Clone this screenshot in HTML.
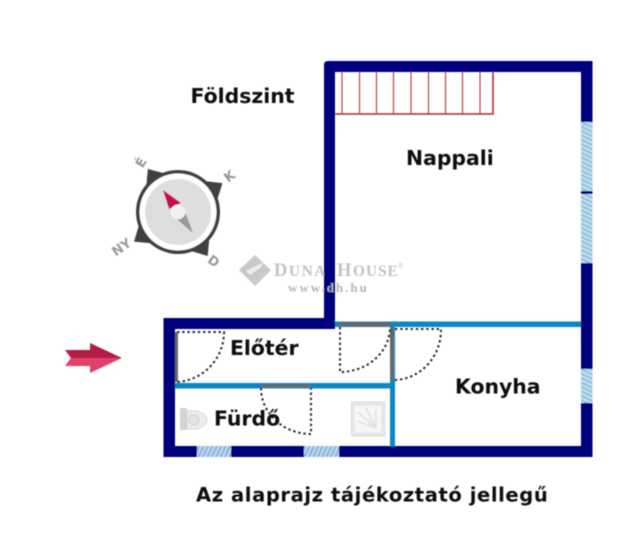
<!DOCTYPE html>
<html><head><meta charset="utf-8">
<style>html,body{margin:0;padding:0;background:#fff}svg{display:block}
text{font-family:"DejaVu Sans",sans-serif;font-weight:bold;fill:#0a0a0a}</style></head>
<body>
<svg width="640" height="548" viewBox="0 0 640 548" xmlns="http://www.w3.org/2000/svg">
<defs>
<pattern id="h" width="6" height="4" patternUnits="userSpaceOnUse" patternTransform="rotate(25)">
<rect width="6" height="4" fill="#c4dff0"/><rect width="6" height="2" fill="#8fc3dc"/></pattern>
<pattern id="v" width="4" height="6" patternUnits="userSpaceOnUse" patternTransform="rotate(25)">
<rect width="4" height="6" fill="#c4d8f0"/><rect width="2" height="6" fill="#84b4dc"/></pattern>
<filter id="b" x="-10%" y="-10%" width="120%" height="120%"><feGaussianBlur stdDeviation="0.45"/></filter>
</defs>
<g filter="url(#b)">
<!-- logo -->
<path fill="#c9c9c9" d="M255 255L271 270 255 286 239 270Z"/>
<path fill="#eee" d="M246 271L264 262 260 268 250 275Z"/>
<text x="274" y="276" style="font-family:'Liberation Serif',serif;fill:#c2c2c2;font-weight:bold" font-size="18.500" letter-spacing="1.500">D<tspan font-size="15.500">UNA</tspan><tspan x="337">H</tspan><tspan font-size="15.500" letter-spacing="0.900">OUSE</tspan></text>
<text x="398" y="268" style="font-family:'Liberation Serif',serif;fill:#bdbdbd;font-weight:normal" font-size="7">®</text>
<!-- stairs -->
<g fill="none" stroke="#b8454a" stroke-width="1.200">
<path d="M342 72V114M359.500 72V114M376.500 72V114M393.500 72V114M411 72V114M428.500 72V114M445.500 72V114M462.500 72V114M480 72V114"/>
<path d="M335 114H493V72" stroke-width="1.800"/></g>
<!-- walls -->
<path fill="#00007d" fill-rule="evenodd" d="M328 61H592.500V457H163.500V318H324V65Q324 61 328 61ZM335 72V329H175V446H581V72Z"/>
<text x="288" y="292" style="font-family:'Liberation Serif',serif;fill:#b5b5b5" font-size="13" letter-spacing="2">www.dh.hu</text>
<!-- windows -->
<rect x="581" y="122" width="11.500" height="69" fill="url(#h)"/>
<rect x="581" y="194" width="11.500" height="69" fill="url(#h)"/>
<rect x="581" y="369" width="11.500" height="34" fill="url(#h)"/>
<rect x="197" y="446" width="34" height="11" fill="url(#v)"/>
<rect x="304" y="446" width="35" height="11" fill="url(#v)"/>
<!-- blue inner walls -->
<g fill="#0f86c2">
<rect x="335" y="321.500" width="246" height="5.500"/>
<rect x="390" y="321.500" width="5" height="125"/>
<rect x="175" y="383" width="216" height="5.500"/>
</g>
<!-- door leaves -->
<g fill="#5f6a70">
<rect x="340" y="322" width="50" height="4.500"/>
<rect x="390" y="327" width="4" height="53"/>
<rect x="175" y="332" width="3" height="50"/>
<rect x="261" y="384" width="49" height="3.500"/>
</g>
<!-- door swings -->
<g fill="none" stroke="#26292d" stroke-width="2" stroke-dasharray="2.400 2.800">
<path d="M177 332H224A50 50 0 0 1 177 382"/>
<path d="M340 327V372A50 45 0 0 0 390 328"/>
<path d="M395 329H441A48 50 0 0 1 395 380"/>
<path d="M261 388A50 46 0 0 0 311 434V388"/>
</g>
<!-- arrow -->
<path fill="#b21f43" d="M65 350H90V343L122 358H71Z"/>
<path fill="#e0416b" d="M71 358H122L90 373V366H65Z"/>
<!-- compass -->
<g>
<g fill="#3f3f3f">
<path d="M0 -52.500L14 -36H-14Z" transform="translate(178 212) rotate(-35)"/>
<path d="M0 -53L14 -36H-14Z" transform="translate(178 212) rotate(57)"/>
<path d="M0 -53L14 -36H-14Z" transform="translate(178 212) rotate(146)"/>
<path d="M0 -53L14 -36H-14Z" transform="translate(178 212) rotate(236)"/>
</g>
<circle cx="178" cy="212" r="42" fill="#3f3f3f"/>
<circle cx="178" cy="212" r="38.500" fill="#fff"/>
<circle cx="178" cy="212" r="33" fill="#dedede"/>
<path fill="#c40d50" d="M163 190L181 203 169 209Z"/>
<path fill="#999" d="M193 233L172 215 184 209Z"/>
<circle cx="178" cy="212" r="7.500" fill="#f1f1f1"/>
</g>
<!-- compass letters -->
<g font-size="13" text-anchor="middle" dominant-baseline="central">
<text transform="translate(142 163) rotate(-60)" style="fill:#9a9a9a">É</text>
<text transform="translate(230 177) rotate(-35)" style="fill:#9a9a9a">K</text>
<text transform="translate(122 248) rotate(-35)" style="fill:#9a9a9a">NY</text>
<text transform="translate(213 262) rotate(35)" style="fill:#9a9a9a">D</text>
</g>
<!-- toilet -->
<g>
<rect x="180" y="408" width="7" height="22" fill="#d4d4d4"/>
<path d="M187 411H197Q206 414 207 420Q206 426 197 429H187Z" fill="#ececec" stroke="#d6d6d6"/>
<circle cx="194" cy="420" r="5" fill="#e4e4e4" stroke="#d2d2d2"/>
</g>
<!-- shower -->
<g>
<rect x="351.500" y="402" width="33" height="34" fill="#e8e8e8" stroke="#d8d8d8"/>
<rect x="355" y="406" width="26" height="26" fill="#f7f7f7"/>
<path d="M376 428L358 412M376 428L366 408M376 428L376 409M376 428L357 421" stroke="#e4e4e4" stroke-width="2"/>
</g>
<text x="190.500" y="103" font-size="20.400">Földszint</text>
<text x="406" y="165" font-size="20.400">Nappali</text>
<text x="230" y="355" font-size="20.400">Előtér</text>
<text x="214" y="425.500" font-size="20.400">Fürdő</text>
<text x="455" y="393.500" font-size="20.400">Konyha</text>
<text x="196" y="501.500" font-size="19.500" letter-spacing="0.600">Az alaprajz tájékoztató jellegű</text>
</g>
</svg>
</body></html>
